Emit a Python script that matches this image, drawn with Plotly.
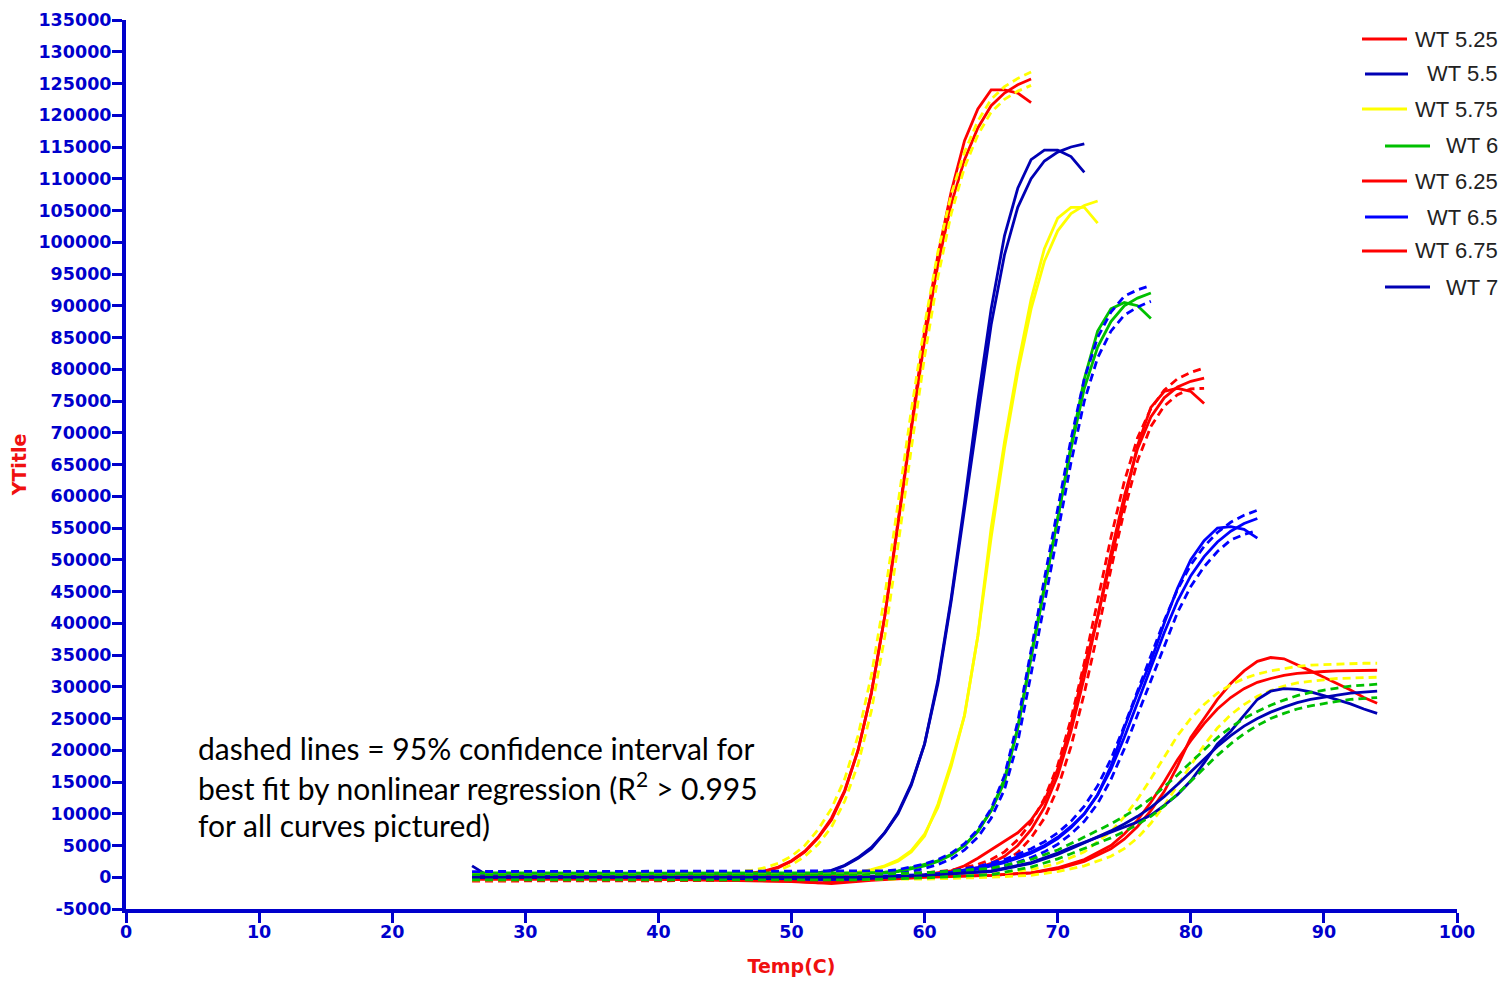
import plotly.graph_objects as go

# ---------------- data ----------------
legend_names = ["WT 5.25", "WT 5.5", "WT 5.75", "WT 6", "WT 6.25", "WT 6.5", "WT 6.75", "WT 7"]

x_ticks = [0, 10, 20, 30, 40, 50, 60, 70, 80, 90, 100]
x_tick_labels = ["0", "10", "20", "30", "40", "50", "60", "70", "80", "90", "100"]
y_ticks = [-5000, 0, 5000, 10000, 15000, 20000, 25000, 30000, 35000, 40000, 45000, 50000,
           55000, 60000, 65000, 70000, 75000, 80000, 85000, 90000, 95000, 100000, 105000,
           110000, 115000, 120000, 125000, 130000, 135000]
y_tick_labels = ["-5000", "0", "5000", "10000", "15000", "20000", "25000", "30000", "35000",
                 "40000", "45000", "50000", "55000", "60000", "65000", "70000", "75000",
                 "80000", "85000", "90000", "95000", "100000", "105000", "110000", "115000",
                 "120000", "125000", "130000", "135000"]

# WT 5.25
x1 = [26, 30, 35, 40, 44, 46, 47, 48, 49, 50, 51, 52, 53, 54, 55, 56, 57, 58, 59, 60, 61, 62, 63, 64, 65, 66, 67, 68]
data1 = [300, 300, 300, 300, 300, 400, 600, 900, 1500, 2500, 4000, 6200, 9000, 13500, 20000, 29000, 41000, 56000,
         71000, 86000, 98000, 108000, 116000, 121000, 124000, 124000, 123500, 122000]
fit1 = [300, 300, 300, 300, 350, 450, 650, 1000, 1600, 2600, 4100, 6300, 9300, 13700, 20000, 29000, 41000, 55500,
        70500, 84500, 96500, 106000, 113000, 118000, 121500, 123500, 124800, 125700]
hi1 = [700, 700, 700, 700, 750, 900, 1100, 1500, 2200, 3300, 5000, 7500, 10800, 15500, 22300, 31800, 44200, 58800,
       73500, 87000, 98500, 107500, 114200, 119100, 122500, 124500, 125800, 126800]
lo1 = [-100, -100, -100, -100, -50, 50, 250, 550, 1050, 1950, 3300, 5200, 7900, 12000, 17800, 26200, 37800, 52200,
       67500, 82000, 94500, 104500, 111800, 116900, 120500, 122500, 123800, 124700]

# WT 5.5
x2 = [26, 27, 30, 35, 40, 45, 50, 52, 53, 54, 55, 56, 57, 58, 59, 60, 61, 62, 63, 64, 65, 66, 67, 68, 69, 70, 71, 72]
data2 = [1800, 500, 300, 200, 200, 200, 300, 600, 1000, 1800, 3000, 4500, 7000, 10000, 14500, 21000, 31000, 44000,
         59000, 75000, 89500, 101000, 108500, 113000, 114500, 114500, 113500, 111000]
fit2 = [300, 300, 300, 300, 300, 300, 400, 700, 1100, 1900, 3100, 4700, 7000, 10200, 14700, 21000, 30500, 43500,
        58000, 73000, 87000, 98000, 105500, 110000, 112800, 114200, 115000, 115500]

# WT 5.75
x3 = [26, 30, 35, 40, 45, 50, 52, 54, 55, 56, 57, 58, 59, 60, 61, 62, 63, 64, 65, 66, 67, 68, 69, 70, 71, 72, 73]
data3 = [500, 500, 400, 400, 300, 300, 300, 500, 700, 1100, 1700, 2500, 4000, 6500, 11500, 18000, 25500, 38000,
         55000, 68500, 80500, 91000, 99000, 103800, 105500, 105500, 103000]
fit3 = [400, 400, 400, 400, 400, 400, 450, 600, 800, 1200, 1800, 2700, 4200, 6800, 11000, 17500, 25500, 38000,
        53500, 67500, 79500, 89500, 97000, 101800, 104500, 105800, 106500]

# WT 6
x4 = [26, 30, 35, 40, 45, 50, 55, 57, 58, 59, 60, 61, 62, 63, 64, 65, 66, 67, 68, 69, 70, 71, 72, 73, 74, 75, 76, 77]
data4 = [700, 700, 700, 600, 500, 500, 600, 800, 1000, 1500, 2000, 2600, 3600, 5000, 7300, 10500, 15000, 23500,
         35000, 45500, 56500, 68000, 78500, 86000, 89500, 90500, 90000, 88000]
fit4 = [600, 600, 600, 600, 600, 600, 600, 700, 900, 1300, 1800, 2500, 3500, 5000, 7200, 10500, 15500, 23500,
        34500, 45500, 56500, 67500, 77000, 83500, 87500, 90000, 91200, 92000]
hi4 = [900, 900, 900, 900, 900, 900, 900, 1000, 1200, 1600, 2100, 2800, 3800, 5300, 7500, 10800, 16000, 24500,
       36000, 47000, 58000, 69000, 78500, 85000, 89000, 91500, 92500, 93200]
lo4 = [300, 300, 300, 300, 300, 300, 300, 400, 600, 900, 1400, 2000, 2900, 4300, 6300, 9300, 13800, 21300,
       32000, 43000, 54000, 65300, 75000, 81800, 86000, 88500, 89800, 90700]

# WT 6.25
x5 = [26, 30, 35, 40, 45, 50, 52, 54, 56, 58, 60, 62, 63, 64, 65, 66, 67, 68, 69, 70, 71, 72, 73, 74, 75, 76, 77,
      78, 79, 80, 81]
data5 = [-300, -300, -300, -300, -500, -700, -900, -700, -300, 0, 400, 1000, 1800, 3000, 4300, 5600, 7000, 9000,
         12000, 17000, 24000, 33000, 41000, 50000, 59000, 68000, 74000, 76500, 77000, 76500, 74600]
fit5 = [-300, -300, -300, -300, -300, -300, -300, -200, -100, 100, 300, 700, 1100, 1500, 2200, 3300, 5000, 7500,
        11000, 16000, 23000, 31500, 41000, 51000, 60000, 67500, 72500, 75500, 77200, 78100, 78600]
hi5 = [0, 0, 0, 0, 0, 0, 0, 100, 200, 400, 700, 1100, 1500, 2000, 2800, 4000, 5900, 8600, 12400, 17600, 24900,
       33800, 43500, 53500, 62300, 69200, 73800, 76700, 78500, 79500, 80200]
lo5 = [-600, -600, -600, -600, -600, -600, -600, -500, -400, -200, 0, 350, 700, 1000, 1600, 2500, 3900, 6200, 9300,
       14000, 20600, 29000, 38500, 48500, 57700, 65600, 71000, 74200, 76000, 76900, 77000]

# WT 6.5
x6 = [26, 30, 35, 40, 45, 50, 55, 60, 62, 64, 66, 67, 68, 69, 70, 71, 72, 73, 74, 75, 76, 77, 78, 79, 80, 81, 82,
      83, 84, 85]
data6 = [200, 200, 100, 0, -300, -500, -300, 300, 800, 1500, 2500, 3200, 4000, 5000, 6300, 8000, 10000, 13000,
         17500, 23500, 29000, 34000, 40000, 45500, 50000, 53000, 55000, 55200, 54800, 53400]
fit6 = [0, 0, 0, 0, 0, 0, 100, 400, 700, 1300, 2300, 3000, 3800, 4800, 6100, 7800, 10000, 13000, 17000, 22000,
        27500, 33000, 38500, 43500, 47500, 50500, 52800, 54500, 55700, 56500]
hi6 = [300, 300, 300, 300, 300, 300, 400, 700, 1000, 1700, 2800, 3600, 4500, 5600, 7000, 8800, 11200, 14400, 18600,
       23800, 29400, 35000, 40400, 45300, 49200, 52100, 54300, 55900, 57000, 57800]
lo6 = [-300, -300, -300, -300, -300, -300, -200, 100, 400, 900, 1800, 2400, 3100, 4000, 5200, 6800, 8800, 11600,
       15400, 20200, 25600, 31000, 36600, 41700, 45800, 48900, 51300, 53100, 54000, 54600]

# WT 6.75
x7 = [26, 30, 35, 40, 45, 50, 53, 56, 60, 65, 68, 70, 72, 74, 75, 76, 77, 78, 79, 80, 81, 82, 83, 84, 85, 86, 87,
      88, 89, 90, 91, 92, 93, 94]
data7 = [0, 0, -200, -300, -400, -600, -1000, -500, 0, 300, 700, 1300, 2500, 4500, 6000, 8000, 10500, 13500, 17500,
         22000, 25000, 28000, 30500, 32500, 34000, 34600, 34400, 33500, 32500, 31500, 30500, 29500, 28300, 27400]
fit7 = [0, 0, 0, 0, 0, 0, 0, 0, 100, 300, 700, 1500, 2800, 5000, 6800, 9000, 11800, 15000, 18500, 21500, 24200,
        26500, 28300, 29700, 30700, 31300, 31800, 32100, 32300, 32400, 32500, 32500, 32500, 32600]
hi7 = [400, 400, 400, 400, 400, 400, 400, 400, 500, 500, 1200, 2200, 4000, 7200, 9500, 12300, 15500, 19000, 22300,
       25000, 27200, 29000, 30300, 31300, 32000, 32500, 32900, 33200, 33400, 33500, 33600, 33600, 33700, 33700]
lo7 = [-400, -400, -400, -400, -400, -400, -400, -400, -300, 0, 300, 900, 1800, 3300, 4500, 6200, 8500, 11300,
       14500, 17800, 20800, 23500, 25600, 27200, 28500, 29400, 30100, 30600, 30900, 31100, 31300, 31400, 31500, 31500]

# WT 7
x8 = [26, 30, 35, 40, 45, 50, 55, 60, 65, 68, 70, 71, 72, 73, 74, 75, 76, 77, 78, 79, 80, 81, 82, 83, 84, 85, 86,
      87, 88, 89, 90, 91, 92, 93, 94]
data8 = [0, 0, 0, 0, -200, -300, -300, 300, 1000, 2300, 3800, 4700, 5500, 6300, 7000, 7800, 8700, 9800, 11300,
         13000, 15200, 18000, 21000, 23000, 25500, 28000, 29300, 29700, 29600, 29200, 28600, 28000, 27300, 26500, 25800]
fit8 = [0, 0, 0, 0, 0, 0, 0, 300, 900, 2200, 3600, 4500, 5400, 6300, 7300, 8400, 9600, 11000, 12700, 14600, 16600,
        18600, 20600, 22300, 23800, 25000, 26000, 26800, 27500, 28000, 28400, 28700, 29000, 29200, 29300]
hi8 = [400, 400, 400, 400, 400, 400, 400, 700, 1400, 2800, 4300, 5300, 6300, 7300, 8400, 9600, 10900, 12400, 14200,
       16100, 18100, 20100, 22000, 23600, 25000, 26100, 27100, 27900, 28600, 29100, 29500, 29800, 30100, 30300, 30400]
lo8 = [-400, -400, -400, -400, -400, -400, -400, -100, 400, 1600, 2900, 3700, 4500, 5300, 6200, 7200, 8300, 9600,
       11200, 13100, 15100, 17100, 19200, 21000, 22600, 23900, 25000, 25800, 26500, 27000, 27400, 27700, 28000,
       28200, 28300]

annotation_lines = ["dashed lines = 95% confidence interval for",
                    "best fit by nonlinear regression (R<sup>2</sup> > 0.995",
                    "for all curves pictured)"]

# ---------------- styling ----------------
RED = "#FF0000"
DKBLUE = "#0000B4"
BLUE = "#0000FF"
YELLOW = "#FFFF00"
GREEN = "#00C000"
AXIS = "#0000CC"
TITLE_RED = "#F01010"

groups = [
    (legend_names[0], x1, data1, fit1, lo1, hi1, RED, YELLOW),
    (legend_names[1], x2, data2, fit2, None, None, DKBLUE, None),
    (legend_names[2], x3, data3, fit3, None, None, YELLOW, None),
    (legend_names[3], x4, data4, fit4, lo4, hi4, GREEN, BLUE),
    (legend_names[4], x5, data5, fit5, lo5, hi5, RED, RED),
    (legend_names[5], x6, data6, fit6, lo6, hi6, BLUE, BLUE),
    (legend_names[6], x7, data7, fit7, lo7, hi7, RED, YELLOW),
    (legend_names[7], x8, data8, fit8, lo8, hi8, DKBLUE, GREEN),
]

LW = 2.8
fig = go.Figure()
for name, x, d, f, lo, hi, col, cicol in groups:
    fig.add_trace(go.Scatter(x=x, y=f, mode="lines", name=name + " fit",
                             line=dict(color=col, width=LW), showlegend=False))
    fig.add_trace(go.Scatter(x=x, y=d, mode="lines", name=name,
                             line=dict(color=col, width=LW), showlegend=False))
    if lo is not None:
        for ci in (lo, hi):
            fig.add_trace(go.Scatter(x=x, y=ci, mode="lines", name=name + " 95% CI",
                                     line=dict(color=cicol, width=LW, dash="8px,5px"),
                                     showlegend=False))

# ---- custom right-aligned legend (positions in page pixels -> paper coords) ----
PL, PR, PT, PB = 126, 1457, 20, 909


def px_to_paper(px, py):
    return (px - PL) / (PR - PL), (PB - py) / (PB - PT)


legend_colors = [RED, DKBLUE, YELLOW, GREEN, RED, BLUE, RED, DKBLUE]
legend_y = [39, 74, 109, 146, 181, 217, 251, 287]
legend_line_x = [(1362, 1407), (1365, 1408), (1362, 1407), (1385, 1430),
                 (1362, 1407), (1365, 1408), (1362, 1407), (1385, 1430)]
shapes = []
annotations = []
for name, col, ly, (lx0, lx1) in zip(legend_names, legend_colors, legend_y, legend_line_x):
    ax0, ay = px_to_paper(lx0, ly)
    ax1, _ = px_to_paper(lx1, ly)
    shapes.append(dict(type="line", xref="paper", yref="paper", x0=ax0, x1=ax1, y0=ay, y1=ay,
                       line=dict(color=col, width=3)))
    tx, _ = px_to_paper(1500, ly)
    annotations.append(dict(text=name, xref="paper", yref="paper", x=tx, y=ay, xanchor="right",
                            yanchor="middle", showarrow=False,
                            font=dict(family="Liberation Sans, Arial, sans-serif", size=22, color="#222222")))

# ---- explanatory text ----
text_y = [748, 786, 825]
for line, ty in zip(annotation_lines, text_y):
    axp, ayp = px_to_paper(196, ty)
    annotations.append(dict(text=line, xref="paper", yref="paper", x=axp, y=ayp, xanchor="left",
                            yanchor="middle", showarrow=False,
                            font=dict(family="Lato, sans-serif", size=30, color="#000000")))

tickfont = dict(family="DejaVu Sans, sans-serif", size=17.5, color=AXIS, weight="bold")
titlefont = dict(family="DejaVu Sans, sans-serif", size=19, color=TITLE_RED, weight="bold")

fig.update_layout(
    width=1495, height=978,
    margin=dict(l=PL - 8, r=1495 - (PR - 8), t=PT - 8, b=978 - (PB - 8), pad=0),
    paper_bgcolor="white", plot_bgcolor="white",
    showlegend=False,
    shapes=shapes,
    annotations=annotations,
    xaxis=dict(range=[0, 100], tickvals=x_ticks, ticktext=x_tick_labels, automargin=False,
               showgrid=False, zeroline=False, showline=True, linecolor=AXIS, linewidth=4,
               ticks="outside", ticklen=10, tickwidth=3, tickcolor=AXIS, tickfont=tickfont,
               ticklabelstandoff=-6,
               title=dict(text="Temp(C)", font=titlefont, standoff=20)),
    yaxis=dict(range=[-5000, 135000], tickvals=y_ticks, ticktext=y_tick_labels, automargin=False,
               showgrid=False, zeroline=False, showline=True, linecolor=AXIS, linewidth=4,
               ticks="outside", ticklen=10, tickwidth=3, tickcolor=AXIS, tickfont=tickfont,
               ticklabelstandoff=-3,
               title=dict(text="YTitle", font=titlefont, standoff=10)),
)

fig.write_html("out.html")
